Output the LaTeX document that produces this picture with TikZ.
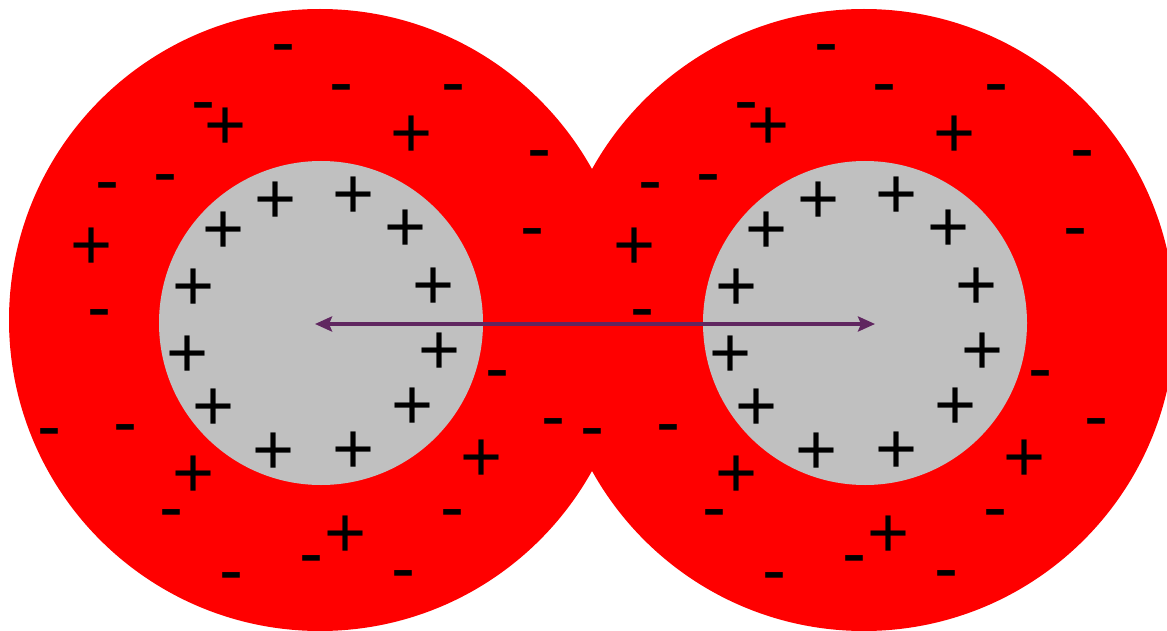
\documentclass[tikz,border=0pt]{standalone}
\usepackage{fontspec}
\setmainfont{Liberation Sans}
\usetikzlibrary{arrows.meta}
\definecolor{shellred}{RGB}{255,0,0}
\definecolor{coregrey}{RGB}{192,192,192}
\definecolor{bondpurple}{RGB}{96,38,96}

\begin{document}
\begin{tikzpicture}[x=1pt, y=-1pt,
	shell/.style={circle, fill=shellred, inner sep=0pt, minimum size=622pt},
	core/.style={circle, fill=coregrey, inner sep=0pt, minimum size=324pt},
	charge/.style={inner sep=0pt, anchor=base, font=\fontsize{72}{80}\selectfont},
	bond/.style={{Stealth[length=17pt, width=15pt, inset=3pt]}-{Stealth[length=17pt, width=15pt, inset=3pt]}, line width=3.5pt, draw=bondpurple}
]
\useasboundingbox (0,0) rectangle (1167,631);
\clip (0,0) rectangle (1167,631);

% Atoms
\node[shell] (shellA) at (320,320) {};
\node[shell] (shellB) at (864,320) {};
\node[core] (coreA) at (321,323) {};
\node[core] (coreB) at (865,323) {};

% Charges (same layout in both atoms)
\foreach \dx/\a in {0/A, 543/B} {
	% electron cloud
	\foreach \x/\y [count=\i] in {283/48, 341/88, 453/88, 203/106, 539/154, 107/186, 165/178, 532/232, 99/313, 497/374, 553/422, 49/432, 125/428, 171/513, 452/513, 311/559, 231/576, 403/574}
		\node[charge, yshift=-18.6pt] (neg\a\i) at (\x+\dx,\y) {-};
	\foreach \x/\y [count=\i] in {226/124, 412/132, 92/244, 194/472, 482/456, 346/532}
		\node[charge, yshift=-25.3pt] (pos\a\i) at (\x+\dx,\y) {+};
	% nucleus
	\foreach \x/\y [count=\i] in {276/198, 354/193, 406/226, 434/284, 440/349, 413/404, 354/448, 274/449, 214/405, 188/352, 194/285, 224/228}
		\node[charge, yshift=-25.3pt] (nuc\a\i) at (\x+\dx,\y) {+};
}

% Separation
\coordinate (tipA) at (315,324);
\coordinate (tipB) at (875,324);
\draw[bond] (tipA) -- (tipB);

\end{tikzpicture}
\end{document}
